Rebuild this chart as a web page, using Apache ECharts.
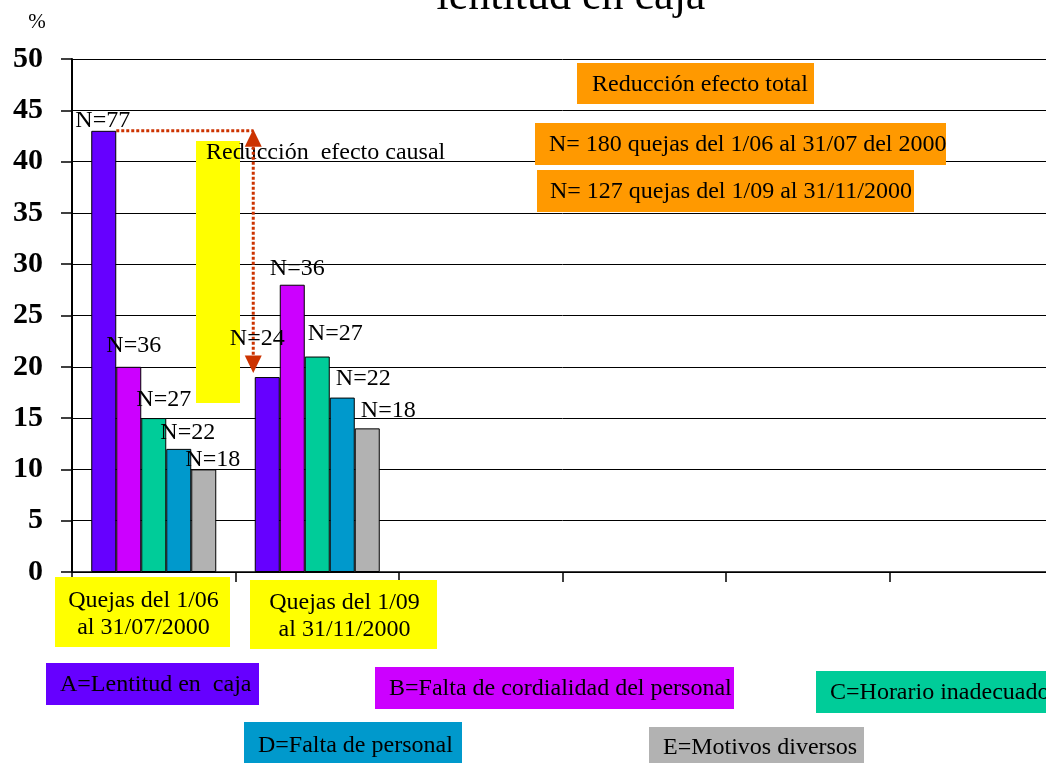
<!DOCTYPE html>
<html>
<head>
<meta charset="utf-8">
<script src="https://cdn.jsdelivr.net/npm/echarts@6/dist/echarts.min.js"></script>
<style>
  html, body { margin: 0; padding: 0; overflow: hidden; background: #fff; }
  #chart { width: 1053px; height: 763px; }
</style>
</head>
<body>
<div id="chart"></div>
<script>
// Complaint periods (six slots on the axis, only the first two are filled)
const categories = ['Quejas del 1/06\nal 31/07/2000', 'Quejas del 1/09\nal 31/11/2000', '', '', '', ''];

// Percentage of complaints per cause, per period
const lentitudCaja      = [43, 19];
const faltaCordialidad  = [20, 28];
const horarioInadecuado = [15, 21];
const faltaPersonal     = [12, 17];
const motivosDiversos   = [10, 14];

// Number of complaints per cause, per period
const nLentitud    = [77, 24];
const nCordialidad = [36, 36];
const nHorario     = [27, 27];
const nPersonal    = [22, 22];
const nDiversos    = [18, 18];

const causeNames = [
  'A=Lentitud en  caja',
  'B=Falta de cordialidad del personal',
  'C=Horario inadecuado',
  'D=Falta de personal',
  'E=Motivos diversos'
];
const notes = [
  'Reducción efecto total',
  'N= 180 quejas del 1/06 al 31/07 del 2000',
  'N= 127 quejas del 1/09 al 31/11/2000'
];
const causalNote = 'Reducción  efecto causal';
const titleText = 'lentitud en caja';
const yMin = 0, yMax = 50, yStep = 5;

// ---- styling ----
const FONT = "'Liberation Serif', 'Times New Roman', serif";
const colors = ['#6600FF', '#CC00FF', '#00CC99', '#0099CC', '#B2B2B2'];
const ORANGE = '#FF9900', YELLOW = '#FFFF00', ARROW = '#CC3300';

const values = [lentitudCaja, faltaCordialidad, horarioInadecuado, faltaPersonal, motivosDiversos];
const counts = [nLentitud, nCordialidad, nHorario, nPersonal, nDiversos];
// label nudges [dx, dy] per series, per period
const labelNudge = [
  [[-1, 7], [-10, -21]],
  [[5, -4], [5, 1]],
  [[10, -1], [18, -6]],
  [[9, 1], [21, -2]],
  [[9, 7], [21, -1]]
];

const chart = echarts.init(document.getElementById('chart'), null, { renderer: 'canvas' });

const series = values.map((vals, s) => ({
  name: causeNames[s],
  type: 'bar',
  z: 10,
  barWidth: 25,
  barGap: '0%',
  itemStyle: { color: colors[s], borderColor: '#000', borderWidth: 1 },
  label: {
    show: true,
    position: 'top',
    distance: 5,
    fontFamily: FONT,
    fontSize: 24,
    color: '#000',
    formatter: p => 'N=' + counts[s][p.dataIndex]
  },
  data: vals.map((v, i) => ({ value: v, label: { offset: labelNudge[s][i] } }))
}));

chart.setOption({
  backgroundColor: '#fff',
  animation: false,
  grid: { left: 72, right: 0, top: 59, bottom: 191 },
  xAxis: {
    type: 'category',
    data: categories,
    axisLine: { show: true, lineStyle: { color: '#000', width: 1.5 } },
    axisTick: { show: true, length: 10, lineStyle: { color: '#000', width: 1.5 } },
    axisLabel: { show: false },
    splitLine: { show: false }
  },
  yAxis: {
    type: 'value',
    min: yMin, max: yMax, interval: yStep,
    axisLine: { show: true, lineStyle: { color: '#000', width: 2 } },
    axisTick: { show: true, length: 11, lineStyle: { color: '#000', width: 1.5 } },
    axisLabel: { fontFamily: FONT, fontWeight: 'bold', fontSize: 30, color: '#000', margin: 29 },
    splitLine: { show: true, lineStyle: { color: '#000', width: 1 } }
  },
  series: series
});

// ---- annotations ----
const graphics = [];
function box(x, y, w, h, fill, text, textStyle) {
  graphics.push({ type: 'rect', z: 5, shape: { x: x, y: y, width: w, height: h }, style: { fill: fill } });
  if (text !== undefined) {
    graphics.push(Object.assign({ type: 'text', z: 6 }, textStyle(x, y, w, h, text)));
  }
}
const leftText = pad => (x, y, w, h, text) => ({
  x: x + pad, y: y + h / 2 + 1,
  style: { text: text, fontFamily: FONT, fontSize: 24, fill: '#000', align: 'left', verticalAlign: 'middle' }
});
const centerText = (x, y, w, h, text) => ({
  x: x + w / 2 + 1, y: y + h / 2 + 2,
  style: { text: text, fontFamily: FONT, fontSize: 24, lineHeight: 27, fill: '#000', align: 'center', verticalAlign: 'middle' }
});

// title and unit
graphics.push({ type: 'text', z: 6, x: 571, y: -3,
  style: { text: titleText, fontFamily: FONT, fontSize: 44, fill: '#000', align: 'center', verticalAlign: 'middle' } });
graphics.push({ type: 'text', z: 6, x: 37, y: 22,
  style: { text: '%', fontFamily: FONT, fontSize: 21, fill: '#000', align: 'center', verticalAlign: 'middle' } });

// notes on the right
box(577, 63, 237, 41, ORANGE, notes[0], leftText(15));
box(535, 123, 411, 42, ORANGE, notes[1], leftText(14));
box(537, 170, 377, 42, ORANGE, notes[2], leftText(13));

// period captions
box(55, 577, 175, 70, YELLOW, categories[0], centerText);
box(250, 580, 187, 69, YELLOW, categories[1], centerText);

// cause key
const keyBoxes = [[46, 663, 213, 42], [375, 667, 359, 42], [816, 671, 240, 42], [244, 722, 218, 45], [649, 727, 215, 40]];
keyBoxes.forEach((b, i) => box(b[0], b[1], b[2], b[3], colors[i], causeNames[i], leftText(14)));

// causal reduction marker
box(196, 141, 44, 262, YELLOW);
graphics.push({ type: 'text', z: 6, x: 206, y: 153,
  style: { text: causalNote, fontFamily: FONT, fontSize: 24, fill: '#000', align: 'left', verticalAlign: 'middle' } });

// dotted arrow from the first period's A bar down to the second period's A bar
const yHigh = chart.convertToPixel({ yAxisIndex: 0 }, lentitudCaja[0]);
const yLow = chart.convertToPixel({ yAxisIndex: 0 }, lentitudCaja[1]);
const c0 = chart.convertToPixel({ xAxisIndex: 0 }, 0);
const c1 = chart.convertToPixel({ xAxisIndex: 0 }, 1);
const groupHalf = 62.5;
const xStart = c0 - groupHalf + 25;
const xArrow = c1 - groupHalf - 1.5;
const dotted = { stroke: ARROW, lineWidth: 3, lineDash: [3, 2], lineCap: 'butt' };
graphics.push({ type: 'line', z: 7, shape: { x1: xStart, y1: yHigh, x2: xArrow, y2: yHigh }, style: dotted });
graphics.push({ type: 'line', z: 7, shape: { x1: xArrow, y1: yHigh + 16, x2: xArrow, y2: yLow - 21 }, style: dotted });
graphics.push({ type: 'polygon', z: 8, shape: { points: [[xArrow, yHigh - 1.5], [xArrow - 8.5, yHigh + 16], [xArrow + 8.5, yHigh + 16]] }, style: { fill: ARROW } });
graphics.push({ type: 'polygon', z: 8, shape: { points: [[xArrow, yLow - 4], [xArrow - 8.5, yLow - 21.5], [xArrow + 8.5, yLow - 21.5]] }, style: { fill: ARROW } });

chart.setOption({ graphic: { elements: graphics } });
</script>
</body>
</html>
